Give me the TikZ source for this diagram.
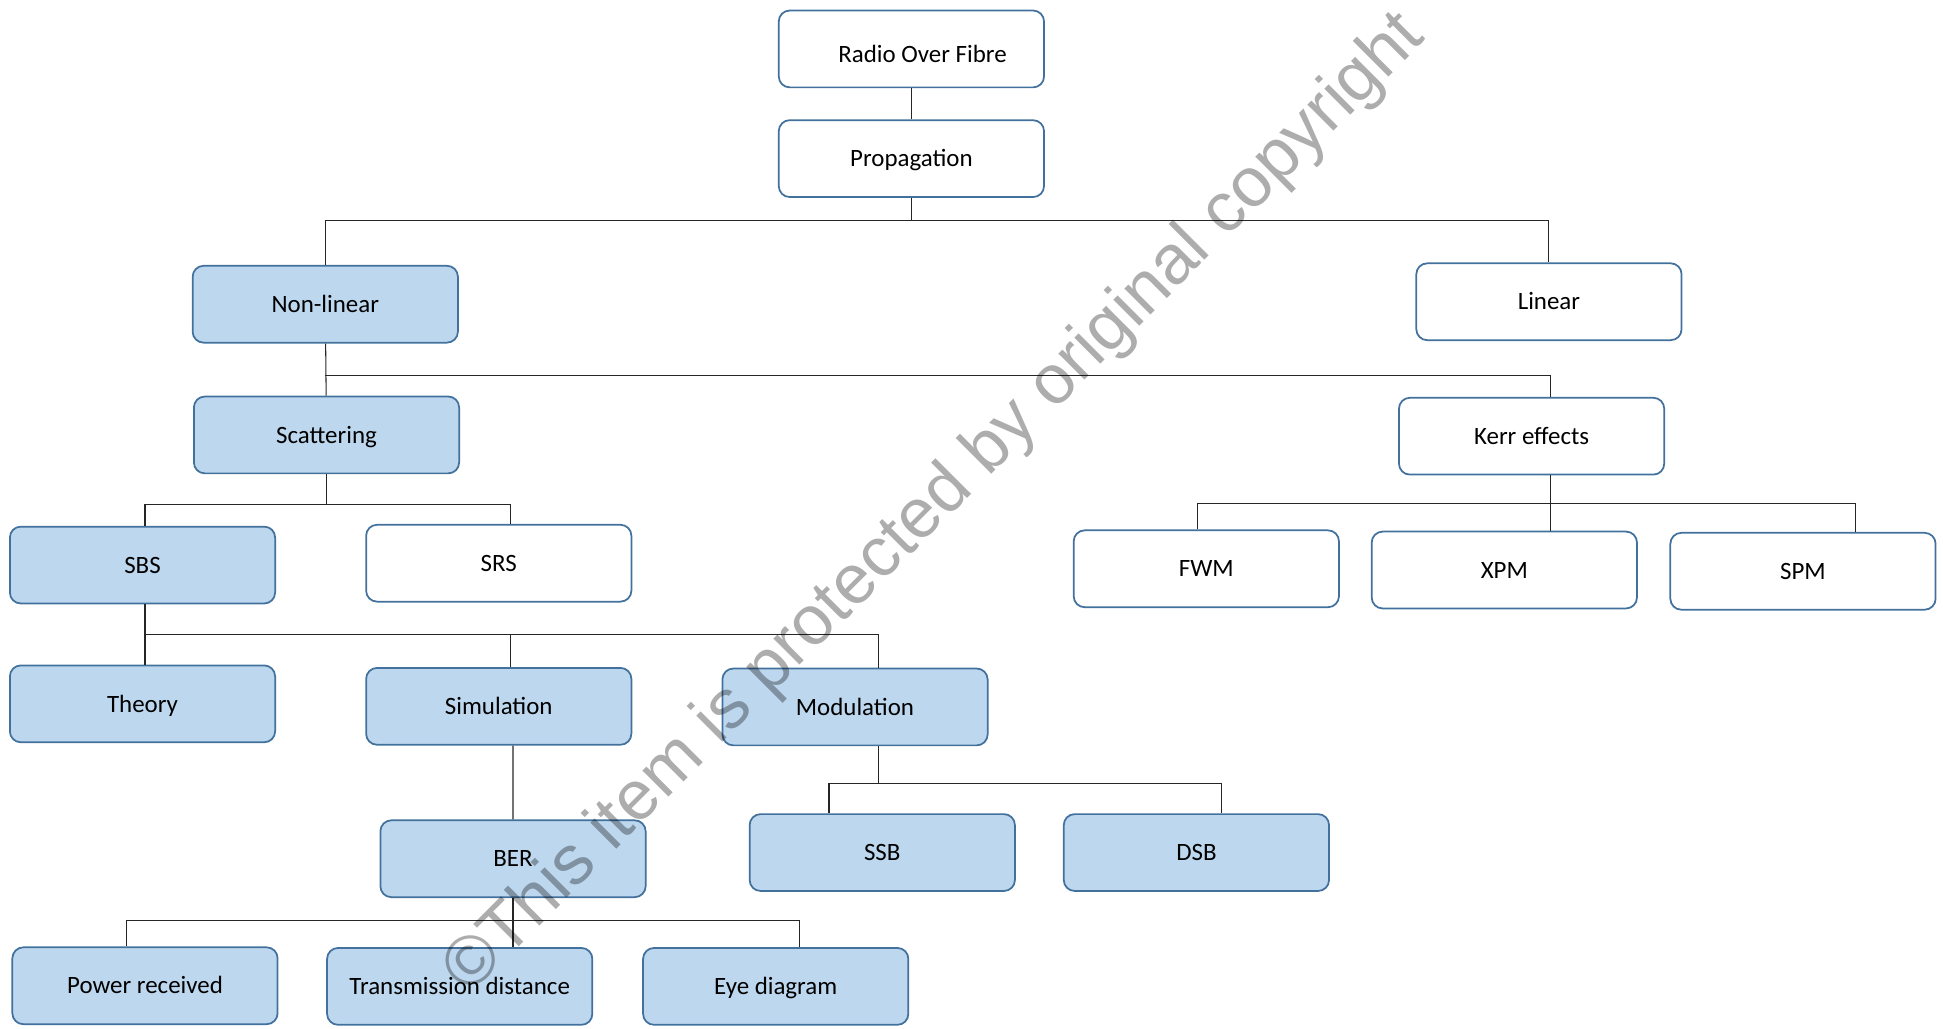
\documentclass[tikz,border=0pt]{standalone}
\usepackage{fontspec}
\setmainfont{Carlito}
\newfontfamily\markfont{Liberation Sans}
\usetikzlibrary{calc}
\definecolor{niceblue}{RGB}{189, 215, 238}
\definecolor{niceblueD}{RGB}{65, 113, 156}

\begin{document}
\begin{tikzpicture}[x = 0.025cm, y = -0.025cm,
    box/.style = {draw = niceblueD, line width = 1pt, fill = white, rounded corners = 0.22cm,
      minimum width = 5.35cm, minimum height = 1.55cm, text height = 0.33cm, text depth = 0pt,
      font = \fontsize{14.3}{17}\selectfont},
    bluebox/.style = {box, fill = niceblue},
    link/.style = {draw = black!85, line width = 0.6pt}]
			\useasboundingbox (0,0) rectangle (1568,830);
			% boxes
			\node (rof) at (735.5,39.5) [box] {\hspace{0.45cm}\raisebox{-0.1cm}{Radio Over Fibre}};
			\node (prop) at (735.5,128) [box] {Propagation};
			\node (nonlin) at (262.5,245.5) [bluebox] {Non-linear};
			\node (lin) at (1250,243.5) [box] {Linear};
			\node (scat) at (263.5,351) [bluebox] {Scattering};
			\node (kerr) at (1236,352) [box] {Kerr effects};
			\node (sbs) at (115,456) [bluebox] {SBS};
			\node (srs) at (402.5,454.5) [box] {SRS};
			\node (fwm) at (973.5,459) [box] {FWM};
			\node (xpm) at (1214,460) [box] {XPM};
			\node (spm) at (1455,461) [box] {SPM};
			\node (theory) at (115,568) [bluebox] {Theory};
			\node (sim) at (402.5,570) [bluebox] {Simulation};
			\node (mod) at (690,570.5) [bluebox] {Modulation};
			\node (ber) at (414,693) [bluebox] {BER};
			\node (ssb) at (712,688) [bluebox] {SSB};
			\node (dsb) at (965.5,688) [bluebox] {DSB};
			\node (power) at (117,795.5) [bluebox] {Power received};
			\node (trans) at (371,796) [bluebox] {Transmission distance};
			\node (eye) at (626,796) [bluebox] {Eye diagram};
			% bus points
			\coordinate (busA) at (735.5,178);
			\coordinate (busB) at (262.5,303);
			\coordinate (busC) at (263.5,407);
			\coordinate (busD) at (1251,406);
			\coordinate (busE) at (117,512);
			\coordinate (busF) at (709,632);
			\coordinate (busG) at (414,743);
			% connectors
			\draw[link] (rof) -- (prop);
			\draw[link] (prop) -- (busA);
			\draw[link] (nonlin.north) |- (busA) -| (lin.north);
			\draw[link] (nonlin) -- (scat);
			\draw[link] (busB) -| ($(kerr.north)+(15,0)$);
			\draw[link] (scat) -- (busC);
			\draw[link] ($(sbs.north)+(2,0)$) |- (busC) -| ($(srs.north)+(9.5,0)$);
			\draw[link] ($(kerr.south)+(15,0)$) -- ($(xpm.north)+(37,0)$);
			\draw[link] ($(fwm.north)+(-7.5,0)$) |- (busD) -| ($(spm.north)+(42,0)$);
			\draw[link] ($(sbs.south)+(2,0)$) -- ($(theory.north)+(2,0)$);
			\draw[link] (busE) -| ($(sim.north)+(9.5,0)$);
			\draw[link] (busE) -| ($(mod.north)+(19,0)$);
			\draw[link] ($(sim.south)+(11.5,0)$) -- (ber);
			\draw[link] ($(mod.south)+(19,0)$) -- (busF);
			\draw[link] ($(ssb.north)+(-43,0)$) |- (busF) -| ($(dsb.north)+(20.5,0)$);
			\draw[link] (ber) -- ($(trans.north)+(43,0)$);
			\draw[link] ($(power.north)+(-15,0)$) |- (busG) -| ($(eye.north)+(19,0)$);
			% watermark
			\node (mark) at (755,407) [rotate = 45, text = black, opacity = 0.32,
			  font = \markfont\fontsize{40}{41}\selectfont] {©This item is protected by original copyright};
			\end{tikzpicture}
\end{document}
